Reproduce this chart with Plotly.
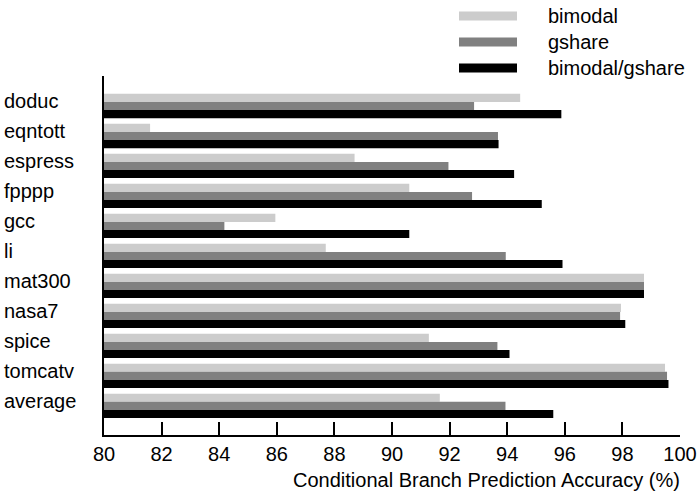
import plotly.graph_objects as go

benchmarks = ["doduc", "eqntott", "espress", "fpppp", "gcc", "li", "mat300",
              "nasa7", "spice", "tomcatv", "average"]
bimodal = [94.45, 81.6, 88.7, 90.6, 85.95, 87.7, 98.75, 97.95, 91.28, 99.48, 91.66]
gshare = [92.85, 93.68, 91.96, 92.78, 84.18, 93.95, 98.75, 97.92, 93.66, 99.55, 93.94]
combined = [95.88, 93.7, 94.24, 95.2, 90.6, 95.92, 98.75, 98.1, 94.08, 99.6, 95.6]
series_names = ["bimodal", "gshare", "bimodal/gshare"]
series_colors = ["#cccccc", "#808080", "#000000"]
x_ticks = list(range(80, 101, 2))

W, H = 698, 492
L, R, T, B = 104, 18, 76, 57
PW, PH = W - L - R, H - T - B
FONT = "Liberation Sans, Arial, sans-serif"
FS = 20


def px_x(x):
    return (x - L) / PW


def px_y(y):
    return (H - B - y) / PH


fig = go.Figure()
for name, vals, col in zip(series_names, [bimodal, gshare, combined], series_colors):
    fig.add_trace(go.Bar(y=benchmarks, x=vals, name=name, orientation="h",
                         base=0, marker=dict(color=col, line=dict(width=0)),
                         showlegend=False))

annotations = []
for b in benchmarks:
    annotations.append(dict(x=px_x(2), xref="paper", y=b, yref="y", text=b,
                            showarrow=False, xanchor="left", yanchor="middle",
                            yshift=5, font=dict(size=FS, color="black", family=FONT)))

shapes = []
legend_y = [16, 42, 68]
for name, col, ly in zip(series_names, series_colors, legend_y):
    shapes.append(dict(type="rect", xref="paper", yref="paper",
                       x0=px_x(459), x1=px_x(517), y0=px_y(ly + 4.5), y1=px_y(ly - 4.5),
                       fillcolor=col, line=dict(width=0)))
    annotations.append(dict(x=px_x(546), xref="paper", y=px_y(ly), yref="paper",
                            text=name, showarrow=False, xanchor="left", yanchor="middle",
                            font=dict(size=FS, color="black", family=FONT)))

annotations.append(dict(x=1, xref="paper", y=px_y(480), yref="paper",
                        text="Conditional Branch Prediction Accuracy (%)",
                        showarrow=False, xanchor="right", yanchor="middle", xshift=2,
                        font=dict(size=FS, color="black", family=FONT)))

fig.update_layout(
    width=W, height=H, autosize=False,
    margin=dict(l=L, r=R, t=T, b=B, pad=0, autoexpand=False),
    paper_bgcolor="white", plot_bgcolor="white",
    barmode="group", bargap=0.19, bargroupgap=0,
    font=dict(family=FONT, size=FS, color="black"),
    xaxis=dict(range=[80, 100], tickvals=x_ticks, ticktext=[str(t) for t in x_ticks],
               ticks="inside", ticklen=13, tickwidth=2, tickcolor="black",
               showline=True, linewidth=2, linecolor="black", automargin=False,
               showgrid=False, zeroline=False,
               tickfont=dict(size=FS, color="black", family=FONT)),
    yaxis=dict(categoryorder="array", categoryarray=benchmarks,
               range=[10.97, -1], showticklabels=False, ticks="", automargin=False,
               showline=True, linewidth=2, linecolor="black",
               showgrid=False, zeroline=False),
    annotations=annotations, shapes=shapes,
)

fig.write_html("out.html", config={"responsive": False})
